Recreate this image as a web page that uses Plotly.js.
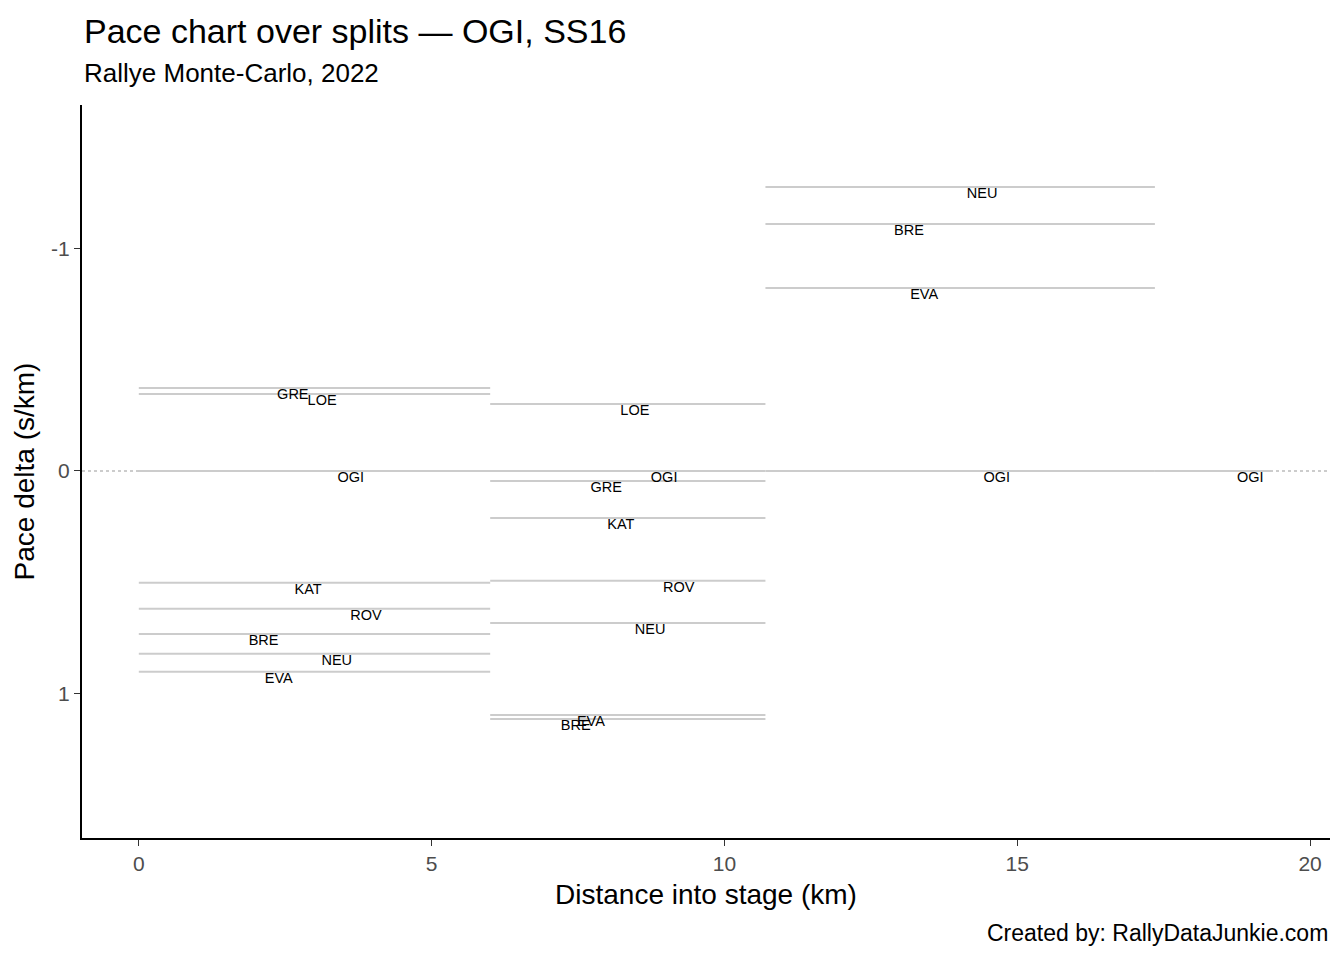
<!DOCTYPE html>
<html><head><meta charset="utf-8">
<script src="https://cdn.plot.ly/plotly-3.0.1.min.js"></script>
<style>body{margin:0}</style></head>
<body><div id="c" style="width:1344px;height:960px"></div>
<script>
// split boundaries (km)
const splitStart = [0, 6.0, 10.7, 17.35];
const splitEnd   = [6.0, 10.7, 17.35, 19.33];
// per split: drivers, pace deltas, label x positions
const drivers = [
  ["GRE","LOE","OGI","KAT","ROV","BRE","NEU","EVA"],
  ["LOE","OGI","GRE","KAT","ROV","NEU","EVA","BRE"],
  ["NEU","BRE","EVA","OGI"],
  ["OGI"]
];
const paceDelta = [
  [-0.373,-0.346,0,0.503,0.62,0.733,0.822,0.903],
  [-0.301,0,0.045,0.211,0.494,0.683,1.097,1.115],
  [-1.276,-1.11,-0.822,0],
  [0]
];
const labelX = [
  [2.63,3.13,3.62,2.89,3.88,2.13,3.38,2.39],
  [8.47,8.97,7.98,8.23,9.22,8.73,7.72,7.46],
  [14.4,13.15,13.41,14.65],
  [18.98]
];
const traces = [];
const lx=[], ly=[];
for (let s=0;s<drivers.length;s++){
  for (let i=0;i<drivers[s].length;i++){
    lx.push(splitStart[s], splitEnd[s], null);
    ly.push(paceDelta[s][i], paceDelta[s][i], null);
  }
}
traces.push({x:lx,y:ly,mode:'lines',line:{color:'#cccccc',width:2},hoverinfo:'skip',showlegend:false});
const tx=[],ty=[],tt=[];
for (let s=0;s<drivers.length;s++) for (let i=0;i<drivers[s].length;i++){
  tx.push(labelX[s][i]); ty.push(paceDelta[s][i]+0.035); tt.push(drivers[s][i]);
}
traces.push({x:tx,y:ty,text:tt,mode:'text',textfont:{size:14.5,color:'#000',family:'Liberation Sans, Arial'},showlegend:false});
const layout={
  width:1344,height:960,paper_bgcolor:'#fff',plot_bgcolor:'#fff',
  margin:{l:82,r:14,t:105,b:122},
  font:{family:'Liberation Sans, Arial',color:'#000'},
  xaxis:{range:[-0.97,20.34],tickvals:[0,5,10,15,20],showgrid:false,zeroline:false,
    showline:true,linecolor:'#000',linewidth:2,ticks:'outside',ticklen:6,tickcolor:'#333',
    tickfont:{size:21,color:'#4d4d4d'},title:{text:'Distance into stage (km)',font:{size:28},standoff:10}},
  yaxis:{range:[1.65,-1.645],tickvals:[-1,0,1],ticktext:['-1','0','1'],showgrid:false,zeroline:false,
    showline:true,linecolor:'#000',linewidth:2,ticks:'outside',ticklen:6,tickcolor:'#333',
    tickfont:{size:21,color:'#4d4d4d'},title:{text:'Pace delta (s/km)',font:{size:28},standoff:8}},
  shapes:[{type:'line',xref:'paper',x0:0,x1:1,yref:'y',y0:0,y1:0,line:{color:'#cccccc',width:2,dash:'dot'},layer:'below'}],
  annotations:[
    {text:'Pace chart over splits — OGI, SS16',xref:'paper',yref:'paper',x:0,y:1,xanchor:'left',yanchor:'bottom',yshift:53,showarrow:false,font:{size:34}},
    {text:'Rallye Monte-Carlo, 2022',xref:'paper',yref:'paper',x:0,y:1,xanchor:'left',yanchor:'bottom',yshift:15,showarrow:false,font:{size:26}},
    {text:'Created by: RallyDataJunkie.com',xref:'paper',yref:'paper',x:1,y:0,xanchor:'right',yanchor:'top',yshift:-80,showarrow:false,font:{size:23}}
  ]
};
Plotly.newPlot('c',traces,layout,{displayModeBar:false});
</script></body></html>
